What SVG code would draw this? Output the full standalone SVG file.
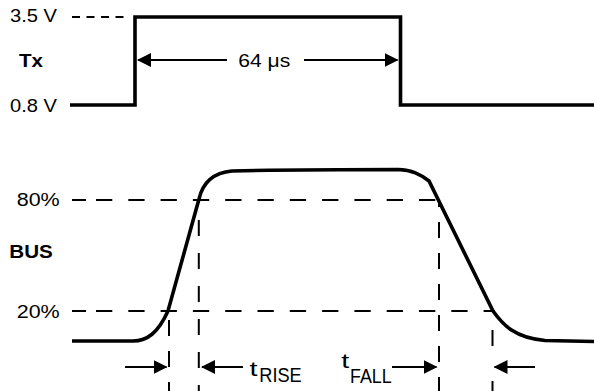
<svg xmlns="http://www.w3.org/2000/svg" width="594" height="391" viewBox="0 0 594 391">
  <style>
    text { font-family: "Liberation Sans", Arial, Helvetica, sans-serif; font-size: 18.5px; fill: #000; }
    .b { font-weight: bold; }
    .sub { font-size: 20px; }
    .t { font-size: 21px; }
    .sig { fill: none; stroke: #000; stroke-width: 3.6; stroke-linejoin: miter; }
    .ref { fill: none; stroke: #000; stroke-width: 2; }
    .hd { stroke-dasharray: 16.3 16; }
    .vd { stroke-dasharray: 16 15; }
    .arr { fill: none; stroke: #000; stroke-width: 2; marker-end: url(#ah); }
  </style>
  <defs>
    <marker id="ah" viewBox="0 0 14 14" refX="13" refY="7" markerWidth="14" markerHeight="14" markerUnits="userSpaceOnUse" orient="auto">
      <path d="M0,0 L14,7 L0,14 Z" fill="#000"/>
    </marker>
  </defs>
  <rect width="594" height="391" fill="#fff"/>

  <g id="tx-labels">
    <text x="10" y="22" textLength="47" lengthAdjust="spacingAndGlyphs">3.5 V</text>
    <text class="b" x="19" y="67" textLength="24" lengthAdjust="spacingAndGlyphs">Tx</text>
    <text x="10" y="112" textLength="47" lengthAdjust="spacingAndGlyphs">0.8 V</text>
  </g>

  <g id="tx-signal">
    <line class="ref" x1="72" y1="17" x2="124" y2="17" stroke-dasharray="8 6.5" stroke-width="1.8"/>
    <path class="sig" d="M70,105 H135 V17 H400.5 V105 H594"/>
  </g>

  <g id="tx-width">
    <text x="238.3" y="66.5" textLength="52" lengthAdjust="spacingAndGlyphs">64 μs</text>
  </g>

  <g id="bus-labels">
    <text x="16.7" y="206" textLength="43" lengthAdjust="spacingAndGlyphs">80%</text>
    <text class="b" x="9.3" y="258" textLength="43.5" lengthAdjust="spacingAndGlyphs">BUS</text>
    <text x="16.7" y="318.3" textLength="43" lengthAdjust="spacingAndGlyphs">20%</text>
  </g>

  <g id="reference-lines">
    <line class="ref" x1="72" y1="200" x2="86" y2="200"/>
    <line class="ref hd" x1="96" y1="200" x2="439" y2="200"/>
    <line class="ref" x1="72" y1="311" x2="86" y2="311"/>
    <line class="ref hd" x1="96" y1="311" x2="495" y2="311"/>
    <line class="ref vd" x1="169" y1="311" x2="169" y2="391" stroke-dashoffset="22"/>
    <line class="ref" x1="198.8" y1="200" x2="198.8" y2="391" stroke-dasharray="16 17" stroke-dashoffset="13"/>
    <line class="ref vd" x1="439" y1="200" x2="439" y2="391" stroke-dashoffset="9"/>
    <line class="ref" x1="492.5" y1="311" x2="492.5" y2="391" stroke-dasharray="16 35" stroke-dashoffset="32"/>
  </g>

  <g id="bus-signal">
    <path class="sig" d="M72,341 H133 C147,341 158,333 168,311 L199,199 C202,186 210,173 232,171 C300,169.5 360,169.5 398,169.5 C412,170 420,174 429,181 L493,311 C503,325 515,338 545,340.5 L594,341.5"/>
  </g>

  <g id="timing-labels">
    <text class="t" x="249.5" y="376" textLength="8" lengthAdjust="spacingAndGlyphs">t</text>
    <text class="sub" x="259.3" y="382" textLength="42.4" lengthAdjust="spacingAndGlyphs">RISE</text>
    <text class="t" x="341.2" y="368.3" textLength="8" lengthAdjust="spacingAndGlyphs">t</text>
    <text class="sub" x="350" y="383" textLength="41.7" lengthAdjust="spacingAndGlyphs">FALL</text>
  </g>

  <g id="connectors">
    <line class="arr" x1="227" y1="60" x2="138" y2="60"/>
    <line class="arr" x1="304" y1="60" x2="397.5" y2="60"/>
    <line class="arr" x1="125" y1="367" x2="166.5" y2="367"/>
    <line class="arr" x1="243" y1="367" x2="202" y2="367"/>
    <line class="arr" x1="392" y1="367" x2="436.5" y2="367"/>
    <line class="arr" x1="535" y1="367" x2="494.5" y2="367"/>
  </g>
</svg>
